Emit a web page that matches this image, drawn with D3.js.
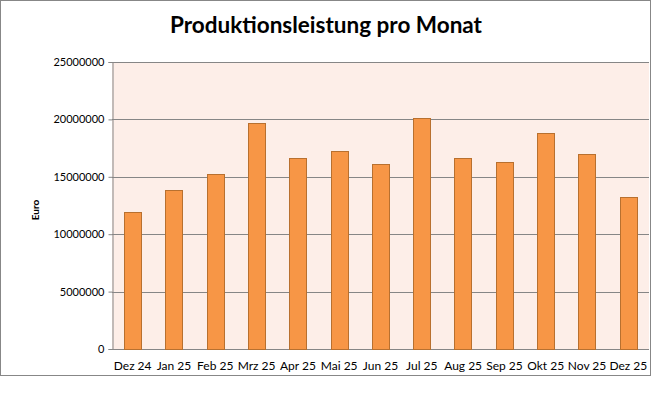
<!DOCTYPE html>
<html>
<head>
<meta charset="utf-8">
<script src="https://cdn.jsdelivr.net/npm/d3@7"></script>
<style>
  body { margin: 0; background: #fff; }
  svg { display: block; }
</style>
</head>
<body>
<div id="chart"></div>
<script>
// chart data
const months = ["Dez 24", "Jan 25", "Feb 25", "Mrz 25", "Apr 25", "Mai 25", "Jun 25",
  "Jul 25", "Aug 25", "Sep 25", "Okt 25", "Nov 25", "Dez 25"];
const values = [11900000, 13850000, 15250000, 19700000, 16650000, 17250000, 16100000,
  20150000, 16650000, 16300000, 18800000, 17000000, 13250000];
const yTicks = [0, 5000000, 10000000, 15000000, 20000000, 25000000];
const title = "Produktionsleistung pro Monat";
const yLabel = "Euro";

const width = 652, height = 399;
const plot = { left: 112, right: 649, top: 62, bottom: 349 };
const font = "Lato, 'Open Sans', sans-serif";

const svg = d3.select("#chart").append("svg")
  .attr("width", width)
  .attr("height", height);

// outer chart frame
svg.append("rect")
  .attr("x", 0.5).attr("y", 0.5)
  .attr("width", 650).attr("height", 375)
  .attr("fill", "#fff")
  .attr("stroke", "#878787");

const x = d3.scaleBand()
  .domain(months)
  .range([plot.left, plot.right])
  .paddingInner(0.58)
  .paddingOuter(0.29);

const y = d3.scaleLinear()
  .domain([0, 25000000])
  .range([plot.bottom, plot.top]);

// plot area background
svg.append("rect")
  .attr("x", plot.left).attr("y", plot.top)
  .attr("width", plot.right - plot.left)
  .attr("height", plot.bottom - plot.top)
  .attr("fill", "#fdeee8");

// gridlines
svg.append("g")
  .selectAll("line")
  .data(yTicks)
  .join("line")
  .attr("x1", plot.left).attr("x2", plot.right)
  .attr("y1", d => Math.round(y(d)) + 0.5)
  .attr("y2", d => Math.round(y(d)) + 0.5)
  .attr("stroke", "#868686");

// y axis
const yAxis = svg.append("g")
  .attr("transform", `translate(${plot.left + 0.5},0)`)
  .call(d3.axisLeft(y).tickValues(yTicks).tickFormat(d3.format("d")).tickSize(4).tickPadding(4));
yAxis.select(".domain").attr("stroke", "#868686");
yAxis.selectAll(".tick line").attr("stroke", "#868686");
yAxis.selectAll("text")
  .attr("font-family", font)
  .attr("font-size", 11)
  .attr("fill", "#000");

// bars
svg.append("g")
  .selectAll("rect")
  .data(values)
  .join("rect")
  .attr("x", (d, i) => Math.round(x(months[i])) + 0.5)
  .attr("y", d => Math.round(y(d)) + 0.5)
  .attr("width", Math.round(x.bandwidth()))
  .attr("height", d => Math.round(plot.bottom - y(d)))
  .attr("fill", "#f79646")
  .attr("stroke", "#b8702f")
  .attr("stroke-width", 1);

// x axis labels
svg.append("g")
  .selectAll("text")
  .data(months)
  .join("text")
  .attr("x", d => x(d) + x.bandwidth() / 2)
  .attr("y", 370)
  .attr("text-anchor", "middle")
  .attr("font-family", font)
  .attr("font-size", 12)
  .attr("fill", "#000")
  .text(d => d);

// title
svg.append("text")
  .attr("x", 326)
  .attr("y", 33)
  .attr("text-anchor", "middle")
  .attr("font-family", font)
  .attr("font-weight", "bold")
  .attr("font-size", 22.5)
  .attr("fill", "#000")
  .text(title);

// y axis title
svg.append("text")
  .attr("transform", "translate(39,210) rotate(-90)")
  .attr("text-anchor", "middle")
  .attr("font-family", font)
  .attr("font-weight", "bold")
  .attr("font-size", 10)
  .attr("fill", "#000")
  .text(yLabel);
</script>
</body>
</html>
